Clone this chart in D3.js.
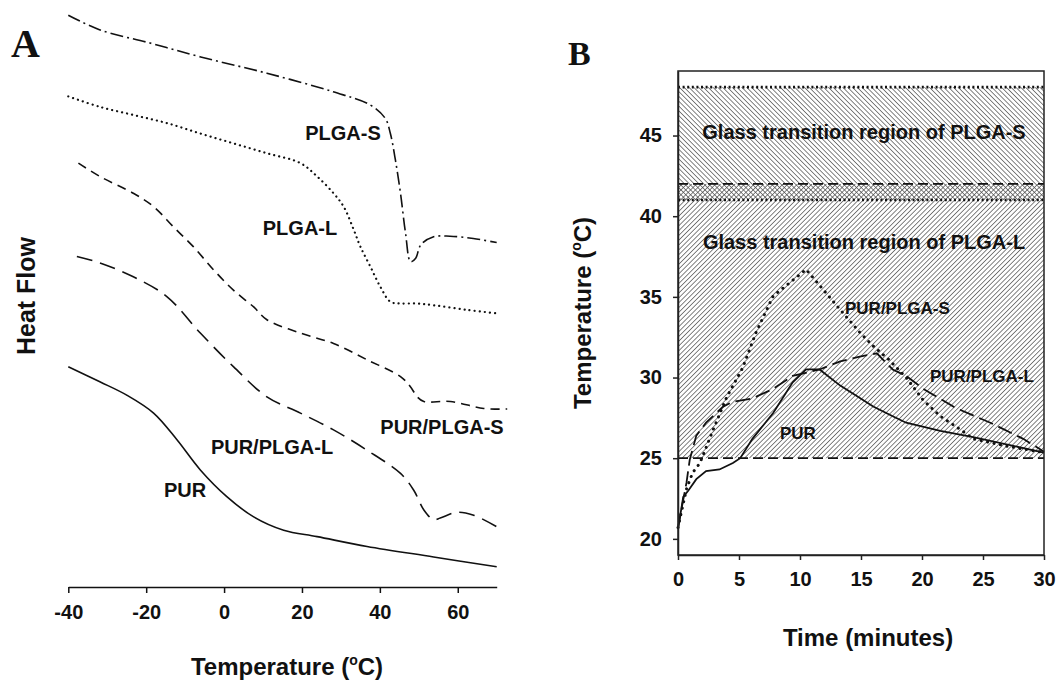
<!DOCTYPE html>
<html>
<head>
<meta charset="utf-8">
<title>DSC and temperature profiles</title>
<script src="https://cdnjs.cloudflare.com/ajax/libs/d3/7.8.5/d3.min.js"></script>
<style>
  body { margin: 0; background: #fff; }
  svg { display: block; }
  text { font-family: "Liberation Sans", Arial, sans-serif; font-weight: bold; fill: #111; }
  .panel { font-family: "Liberation Serif", "Times New Roman", serif; }
</style>
</head>
<body>
<svg width="1060" height="682"></svg>
<script>
// ---- Panel A: DSC heat flow (arbitrary units) vs temperature (°C)
var plgaS_T  = [-40, -32, -19, -6, 11, 28, 37.6, 41.4, 42.7, 44, 45.3, 46.6, 47.9, 49.2, 50.5, 53.8, 58, 64, 70];
var plgaS_HF = [99.1, 96.6, 94.3, 91.9, 89.1, 85.9, 83.6, 81.3, 78.7, 74.1, 68.4, 61.5, 56.6, 57.2, 59.5, 60.9, 61.0, 60.6, 59.9];

var plgaL_T  = [-40, -31.9, -23.3, -14.7, -6.1, 2.4, 11, 19.6, 23.9, 28.1, 30.7, 33.3, 35, 37.6, 40.1, 42.7, 45.3, 49.6, 53.8, 62.4, 70];
var plgaL_HF = [85.1, 83.3, 81.9, 80.5, 78.7, 77.0, 75.3, 73.6, 71.3, 68.4, 66.1, 62.1, 59.2, 55.7, 52.3, 49.7, 49.4, 49.4, 49.1, 48.3, 47.7];

var purS_T  = [-37.4, -31.9, -23.3, -18.1, -13, -7.9, -2.7, 2.4, 7.6, 11, 19.6, 28.1, 36.7, 45.3, 47.8, 49.6, 51.3, 58.1, 66.7, 72.7];
var purS_HF = [73.6, 71.3, 68.4, 66.1, 62.6, 59.2, 55.2, 51.7, 48.8, 46.6, 44.3, 42.5, 39.7, 36.8, 35.1, 33.3, 32.5, 32.5, 31.3, 31.2];

var purL_T  = [-37.8, -31.9, -23.3, -14.7, -6.1, 2.4, 11, 19.6, 28.1, 36.7, 45.3, 48.7, 51.3, 53.8, 55.5, 59.8, 64.1, 70];
var purL_HF = [57.5, 56.4, 54.0, 50.6, 44.3, 38.5, 33.3, 30.5, 27.6, 24.1, 20.1, 17.2, 13.8, 12.1, 12.4, 13.4, 12.9, 10.9];

var pur_T  = [-40, -31.9, -25, -18.1, -12.1, -6.1, 0.7, 7.6, 15.3, 23.9, 36.7, 53.8, 70];
var pur_HF = [38.5, 35.9, 33.6, 30.5, 25.9, 20.7, 16.1, 12.6, 10.3, 9.2, 7.5, 5.7, 4.0];

var tempTicks = [-40, -20, 0, 20, 40, 60];

// ---- Panel B: temperature (°C) vs time (minutes)
var bPur_t  = [0, 0.43, 0.85, 1.5, 2.3, 3.4, 4.5, 5.1, 6.1, 7.8, 9.4, 10.5, 11.6, 13.3, 16, 17.6, 18.7, 21.5, 24.2, 30];
var bPur_T  = [20.6, 22.6, 23.0, 23.7, 24.2, 24.3, 24.7, 25.0, 26.2, 27.8, 29.7, 30.5, 30.5, 29.5, 28.2, 27.6, 27.2, 26.7, 26.3, 25.35];

var bPurL_t = [0, 0.7, 0.96, 1.5, 2.3, 3.7, 4.5, 6.1, 7.8, 9.4, 11.6, 13.3, 14.9, 16.3, 17.6, 18.7, 20.1, 22.8, 25.6, 28.3, 30];
var bPurL_T = [20.7, 23.5, 24.9, 26.4, 27.2, 28.2, 28.5, 28.7, 29.3, 30.1, 30.5, 31.0, 31.3, 31.5, 30.5, 30.1, 29.3, 28.1, 27.2, 26.2, 25.4];

var bPurS_t = [0, 0.7, 1.2, 1.8, 2.9, 4.0, 5.3, 6.4, 7.8, 9.2, 10.5, 11.9, 13.3, 14.9, 16, 17.3, 18.7, 20.1, 21.5, 23.1, 24.2, 26.9, 30];
var bPurS_T = [20.7, 23.1, 24.1, 24.7, 26.8, 28.8, 30.6, 32.8, 35.05, 35.9, 36.7, 35.45, 34.2, 32.8, 31.95, 31.1, 30.0, 28.6, 27.6, 26.8, 26.2, 25.75, 25.35];

var tgS = [41, 48];   // glass transition region of PLGA-S
var tgL = [25, 42];   // glass transition region of PLGA-L
var timeTicks = [0, 5, 10, 15, 20, 25, 30];
var tempBTicks = [20, 25, 30, 35, 40, 45];

var svg = d3.select("svg");

function zip(a, b) { return a.map(function(v, i) { return [v, b[i]]; }); }
function plain(d) { return String(d); }

// ================= Panel A =================
var xA = d3.scaleLinear().domain([-40, 70]).range([68.3, 496.7]);
var yA = d3.scaleLinear().domain([0, 100]).range([590, 10]);

var lineA = d3.line()
  .x(function(d) { return xA(d[0]); })
  .y(function(d) { return yA(d[1]); })
  .curve(d3.curveCatmullRom.alpha(0.5));

var seriesA = [
  { pts: zip(plgaS_T, plgaS_HF), dash: "13,4,2,4", w: 1.6, cap: "butt" },
  { pts: zip(plgaL_T, plgaL_HF), dash: "0.1,5", w: 2.2, cap: "round" },
  { pts: zip(purS_T, purS_HF), dash: "9,6", w: 1.6, cap: "butt" },
  { pts: zip(purL_T, purL_HF), dash: "16,8", w: 1.6, cap: "butt" },
  { pts: zip(pur_T, pur_HF), dash: null, w: 1.6, cap: "butt" }
];

svg.append("g").selectAll("path").data(seriesA).enter().append("path")
  .attr("d", function(d) { return lineA(d.pts); })
  .attr("fill", "none")
  .attr("stroke", "#111")
  .attr("stroke-width", function(d) { return d.w; })
  .attr("stroke-linecap", function(d) { return d.cap; })
  .attr("stroke-dasharray", function(d) { return d.dash; });

var axA = svg.append("g")
  .attr("transform", "translate(0,587)")
  .call(d3.axisBottom(xA).tickValues(tempTicks).tickFormat(plain).tickSize(6).tickSizeOuter(0).tickPadding(12));
axA.select(".domain").attr("stroke", "#111").attr("stroke-width", 1.5);
axA.selectAll(".tick line").attr("stroke", "#111").attr("stroke-width", 1.5);
axA.selectAll(".tick text").attr("font-size", 20).attr("font-family", null).attr("fill", "#111");

var labelsA = [
  { t: "PLGA-S", x: 343, y: 140 },
  { t: "PLGA-L", x: 300, y: 235 },
  { t: "PUR/PLGA-S", x: 442, y: 434 },
  { t: "PUR/PLGA-L", x: 272, y: 454 },
  { t: "PUR", x: 185, y: 497 }
];
svg.append("g").selectAll("text").data(labelsA).enter().append("text")
  .attr("x", function(d) { return d.x; })
  .attr("y", function(d) { return d.y; })
  .attr("text-anchor", "middle")
  .attr("font-size", 20)
  .text(function(d) { return d.t; });

var tA = svg.append("text").attr("x", 287).attr("y", 675).attr("text-anchor", "middle").attr("font-size", 24);
tA.append("tspan").text("Temperature (");
tA.append("tspan").attr("font-size", 14).attr("dy", -10).text("o");
tA.append("tspan").attr("dy", 10).text("C)");

svg.append("text")
  .attr("transform", "translate(35,296) rotate(-90)")
  .attr("text-anchor", "middle").attr("font-size", 25)
  .text("Heat Flow");

svg.append("text").attr("class", "panel").attr("x", 11).attr("y", 57).attr("font-size", 40).text("A");

// ================= Panel B =================
var xB = d3.scaleLinear().domain([0, 30]).range([678, 1044]);
var yB = d3.scaleLinear().domain([19, 49]).range([555, 71]);

var defs = svg.append("defs");
function hatch(id, angle) {
  var p = defs.append("pattern")
    .attr("id", id)
    .attr("patternUnits", "userSpaceOnUse")
    .attr("width", 3.4).attr("height", 3.4)
    .attr("patternTransform", "rotate(" + angle + ")");
  p.append("line").attr("x1", 0).attr("y1", -2).attr("x2", 0).attr("y2", 6)
    .attr("stroke", "#4e4e4e").attr("stroke-width", 1.4);
}
hatch("hatchS", -45);
hatch("hatchL", 45);

var gB = svg.append("g");
gB.append("rect")
  .attr("x", xB(0)).attr("y", yB(tgS[1]))
  .attr("width", xB(30) - xB(0)).attr("height", yB(tgS[0]) - yB(tgS[1]))
  .attr("fill", "url(#hatchS)");
gB.append("rect")
  .attr("x", xB(0)).attr("y", yB(tgL[1]))
  .attr("width", xB(30) - xB(0)).attr("height", yB(tgL[0]) - yB(tgL[1]))
  .attr("fill", "url(#hatchL)");

// boundary lines of the regions
var bounds = [
  { v: tgS[1], dash: "2,2.6", w: 2.6 },
  { v: tgL[1], dash: "10,5", w: 1.8 },
  { v: tgS[0], dash: "2,2.6", w: 2.6 },
  { v: tgL[0], dash: "10,5", w: 1.8 }
];
gB.selectAll("line.bound").data(bounds).enter().append("line")
  .attr("class", "bound")
  .attr("x1", xB(0)).attr("x2", xB(30))
  .attr("y1", function(d) { return yB(d.v); })
  .attr("y2", function(d) { return yB(d.v); })
  .attr("stroke", "#111")
  .attr("stroke-width", function(d) { return d.w; })
  .attr("stroke-dasharray", function(d) { return d.dash; });

var lineB = d3.line()
  .x(function(d) { return xB(d[0]); })
  .y(function(d) { return yB(d[1]); });

var seriesB = [
  { pts: zip(bPurS_t, bPurS_T), dash: "0.1,6.5", w: 3, cap: "round" },
  { pts: zip(bPurL_t, bPurL_T), dash: "15,6", w: 1.8, cap: "butt" },
  { pts: zip(bPur_t, bPur_T), dash: null, w: 1.8, cap: "butt" }
];
gB.selectAll("path.series").data(seriesB).enter().append("path")
  .attr("class", "series")
  .attr("d", function(d) { return lineB(d.pts); })
  .attr("fill", "none")
  .attr("stroke", "#111")
  .attr("stroke-width", function(d) { return d.w; })
  .attr("stroke-linecap", function(d) { return d.cap; })
  .attr("stroke-dasharray", function(d) { return d.dash; });

// frame
gB.append("rect")
  .attr("x", xB(0)).attr("y", yB(49))
  .attr("width", xB(30) - xB(0)).attr("height", yB(19) - yB(49))
  .attr("fill", "none").attr("stroke", "#222").attr("stroke-width", 1.5);

var axBx = svg.append("g")
  .attr("transform", "translate(0," + yB(19) + ")")
  .call(d3.axisBottom(xB).tickValues(timeTicks).tickFormat(plain).tickSize(5).tickSizeOuter(0).tickPadding(12));
var axBy = svg.append("g")
  .attr("transform", "translate(" + xB(0) + ",0)")
  .call(d3.axisLeft(yB).tickValues(tempBTicks).tickFormat(plain).tickSize(5).tickSizeOuter(0).tickPadding(11));
[axBx, axBy].forEach(function(ax) {
  ax.select(".domain").attr("stroke", "#222").attr("stroke-width", 1.5);
  ax.selectAll(".tick line").attr("stroke", "#222").attr("stroke-width", 1.5);
  ax.selectAll(".tick text").attr("font-size", 20).attr("font-family", null).attr("fill", "#111");
});

var regionLabels = [
  { t: "Glass transition region of PLGA-S", y: 139 },
  { t: "Glass transition region of PLGA-L", y: 249 }
];
svg.append("g").selectAll("text").data(regionLabels).enter().append("text")
  .attr("x", 864).attr("y", function(d) { return d.y; })
  .attr("text-anchor", "middle").attr("font-size", 20)
  .text(function(d) { return d.t; });

var labelsB = [
  { t: "PUR/PLGA-S", x: 845, y: 314 },
  { t: "PUR/PLGA-L", x: 930, y: 382 },
  { t: "PUR", x: 780, y: 439 }
];
svg.append("g").selectAll("text").data(labelsB).enter().append("text")
  .attr("x", function(d) { return d.x; })
  .attr("y", function(d) { return d.y; })
  .attr("font-size", 17)
  .text(function(d) { return d.t; });

svg.append("text").attr("x", 868).attr("y", 646).attr("text-anchor", "middle").attr("font-size", 24)
  .text("Time (minutes)");

var tB = svg.append("text")
  .attr("transform", "translate(591,313) rotate(-90)")
  .attr("text-anchor", "middle").attr("font-size", 24);
tB.append("tspan").text("Temperature (");
tB.append("tspan").attr("font-size", 14).attr("dy", -10).text("o");
tB.append("tspan").attr("dy", 10).text("C)");

svg.append("text").attr("class", "panel").attr("x", 568).attr("y", 65).attr("font-size", 34).text("B");
</script>
</body>
</html>
